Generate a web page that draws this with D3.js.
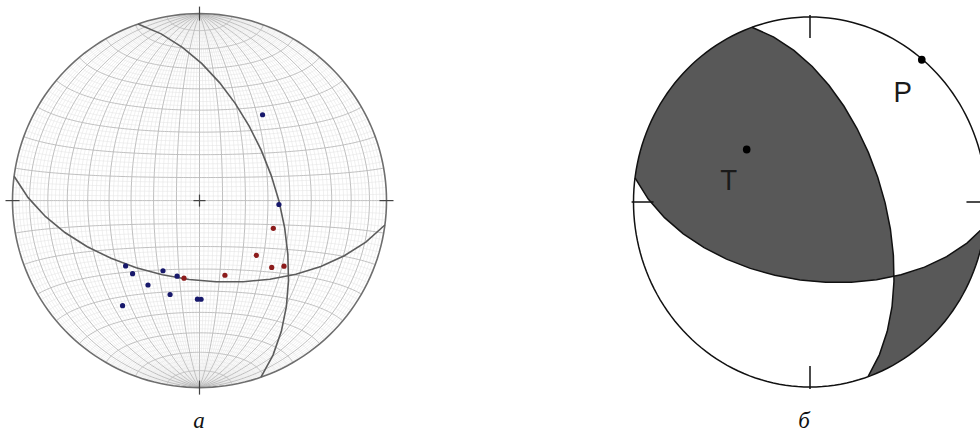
<!DOCTYPE html>
<html>
<head>
<meta charset="utf-8">
<script src="https://cdn.jsdelivr.net/npm/d3@7"></script>
<style>
  body { margin: 0; background: #fff; }
  svg { display: block; }
</style>
</head>
<body>
<svg id="fig" width="980" height="435"></svg>
<script>
// ---- data -------------------------------------------------------------
// nodal planes: dip direction and dip, degrees
const planeDipDir = [70.8, 187.5];
const planeDip    = [56.6, 55.0];

// first-motion observations (lower hemisphere), trend / plunge in degrees
const blueTrend  = [36.3, 92.8, 228.5, 222.5, 207.5, 196.5, 211.4, 197.4, 181.2, 179.1, 216.2];
const bluePlunge = [42.5, 55.0, 46.2, 46.0, 55.2, 55.3, 46.1, 46.3, 46.2, 46.2, 31.0];
const redTrend   = [191.3, 161.2, 133.9, 132.8, 127.8, 110.6];
const redPlunge  = [55.2, 55.3, 55.3, 46.3, 42.3, 55.3];

// principal stress axes
const axisNames  = ["T", "P"];
const axisTrend  = [308.3, 39.5];
const axisPlunge = [52.3, 0.5];

const panelLabels = ["а", "б"];

// ---- geometry helpers -------------------------------------------------
const rad = Math.PI / 180, deg = 180 / Math.PI;
// unit vector (north, east, down) of a line given trend/plunge
function lineVec(trend, plunge) {
  const t = trend * rad, p = plunge * rad;
  return [Math.cos(p) * Math.cos(t), Math.cos(p) * Math.sin(t), Math.sin(p)];
}
// down axis -> projection centre, east -> longitude, north -> latitude
function toGeo(v) {
  return [Math.atan2(v[1], v[2]) * deg, Math.asin(Math.max(-1, Math.min(1, v[0]))) * deg];
}
const neg = v => v.map(c => -c);
const dot = (a, b) => a[0] * b[0] + a[1] * b[1] + a[2] * b[2];
const cross = (a, b) => [a[1] * b[2] - a[2] * b[1], a[2] * b[0] - a[0] * b[2], a[0] * b[1] - a[1] * b[0]];
const unit = v => { const m = Math.hypot(...v); return v.map(c => c / m); };

function planeTrace(i) {
  const dd = planeDipDir[i], dip = planeDip[i];
  const s = lineVec(dd - 90, 0), d = lineVec(dd, dip);
  return { type: "LineString", coordinates: [s, d, neg(s)].map(toGeo) };
}
function planePole(i) { return lineVec(planeDipDir[i] + 180, 90 - planeDip[i]); }

// lower-hemisphere equal-area (Schmidt) projection
function schmidt(radius, centre, clip) {
  const p = d3.geoAzimuthalEqualArea().rotate([0, 0]).scale(radius / Math.SQRT2).translate(centre);
  if (clip) p.clipAngle(90);
  return p;
}

const svg = d3.select("#fig");

// ---- panel a: equal-area net with observations ------------------------
const netR = 187, netC = [199.5, 200.6];
const netProj = schmidt(netR, netC, false);
const netEdge = schmidt(netR, netC, true);
const netPath = d3.geoPath(netProj);

const gNet = svg.append("g");

function meridian(lon) {
  return { type: "LineString", coordinates: d3.range(-90, 90.01, 2).map(lat => [lon, lat]) };
}
function parallel(lat) {
  return { type: "LineString", coordinates: d3.range(-90, 90.01, 1).map(lon => [lon, lat]) };
}
const gridLons = d3.range(-88, 89, 2);
const gridLats = d3.range(-88, 89, 2);
const isMajor = v => Math.abs(v % 10) < 1e-9;

gNet.append("path").datum({ type: "Sphere" }).attr("d", d3.geoPath(netEdge)).attr("fill", "#fff");

const gridMinor = gNet.append("g").attr("fill", "none").attr("stroke", "#e0e0e0").attr("stroke-width", 0.5);
gridLons.filter(v => !isMajor(v)).forEach(v => gridMinor.append("path").attr("d", netPath(meridian(v))));
gridLats.filter(v => !isMajor(v)).forEach(v => gridMinor.append("path").attr("d", netPath(parallel(v))));

const gridMajor = gNet.append("g").attr("fill", "none").attr("stroke", "#b8b8b8").attr("stroke-width", 0.9);
gridLons.filter(isMajor).forEach(v => gridMajor.append("path").attr("d", netPath(meridian(v))));
gridLats.filter(isMajor).forEach(v => gridMajor.append("path").attr("d", netPath(parallel(v))));

// primitive circle
gNet.append("path").datum({ type: "Sphere" }).attr("d", d3.geoPath(netEdge))
  .attr("fill", "none").attr("stroke", "#6e6e6e").attr("stroke-width", 1.6);

// nodal planes
planeDip.forEach((_, i) => {
  gNet.append("path").attr("d", netPath(planeTrace(i)))
    .attr("fill", "none").attr("stroke", "#5c5c5c").attr("stroke-width", 1.6);
});

// cardinal ticks and centre cross
const ticks = gNet.append("g").attr("stroke", "#444").attr("stroke-width", 1.2);
const cardinal = [[0, 90], [0, -90], [90, 0], [-90, 0]];
cardinal.forEach(([lon, lat]) => {
  const p = netProj([lon, lat]);
  const ux = Math.sign(Math.round(p[0] - netC[0])), uy = Math.sign(Math.round(p[1] - netC[1]));
  ticks.append("line")
    .attr("x1", p[0] - ux * 7).attr("y1", p[1] - uy * 7)
    .attr("x2", p[0] + ux * 7).attr("y2", p[1] + uy * 7);
});
const c0 = netProj([0, 0]);
ticks.append("line").attr("x1", c0[0] - 6).attr("x2", c0[0] + 6).attr("y1", c0[1]).attr("y2", c0[1]);
ticks.append("line").attr("x1", c0[0]).attr("x2", c0[0]).attr("y1", c0[1] - 6).attr("y2", c0[1] + 6);

// observations
function drawPoints(trends, plunges, color) {
  gNet.append("g").selectAll("circle").data(trends.map((t, i) => toGeo(lineVec(t, plunges[i]))))
    .join("circle")
    .attr("cx", d => netProj(d)[0]).attr("cy", d => netProj(d)[1])
    .attr("r", 2.6).attr("fill", color);
}
drawPoints(blueTrend, bluePlunge, "#17186b");
drawPoints(redTrend, redPlunge, "#8c1c1c");

// ---- panel b: focal mechanism ----------------------------------------
const ballRy = 185, ballRx = 176.5, ballC = [810, 202];
const ballProj = schmidt(ballRy, [0, 0], true);
const ballLineProj = schmidt(ballRy, [0, 0], false);
const ballPath = d3.geoPath(ballProj), ballLinePath = d3.geoPath(ballLineProj);

const gBall = svg.append("g")
  .attr("transform", `translate(${ballC[0]},${ballC[1]}) scale(${ballRx / ballRy},1)`);

gBall.append("path").datum({ type: "Sphere" }).attr("d", ballPath).attr("fill", "#fff");

// compressional quadrants: the lune holding T and its antipode
const nA = planePole(0), nB = planePole(1);
const T = lineVec(axisTrend[0], axisPlunge[0]);
const sA = Math.sign(dot(T, nA)), sB = Math.sign(dot(T, nB));
const L = unit(cross(nA, nB));
let a = unit(cross(nA, L)); if (dot(a, nB) * sB < 0) a = neg(a);
let b = unit(cross(nB, L)); if (dot(b, nA) * sA < 0) b = neg(b);
function lune(ring) {
  const coords = ring.map(toGeo);
  let f = { type: "Polygon", coordinates: [coords] };
  if (d3.geoArea(f) > 2 * Math.PI) f = { type: "Polygon", coordinates: [coords.slice().reverse()] };
  return f;
}
const lunes = [lune([L, a, neg(L), b, L]), lune([neg(L), neg(a), L, neg(b), neg(L)])];
gBall.append("g").selectAll("path").data(lunes).join("path")
  .attr("d", ballPath).attr("fill", "#585858").attr("stroke", "none");

planeDip.forEach((_, i) => {
  gBall.append("path").attr("d", ballLinePath(planeTrace(i)))
    .attr("fill", "none").attr("stroke", "#111").attr("stroke-width", 1.5)
    .attr("vector-effect", "non-scaling-stroke");
});

gBall.append("path").datum({ type: "Sphere" }).attr("d", ballPath)
  .attr("fill", "none").attr("stroke", "#111").attr("stroke-width", 1.5)
  .attr("vector-effect", "non-scaling-stroke");

const bticks = gBall.append("g").attr("stroke", "#111").attr("stroke-width", 1.5);
cardinal.forEach(([lon, lat]) => {
  const p = ballLineProj([lon, lat]);
  const ux = Math.sign(Math.round(p[0])), uy = Math.sign(Math.round(p[1]));
  bticks.append("line")
    .attr("x1", p[0] + ux * 2).attr("y1", p[1] + uy * 2)
    .attr("x2", p[0] - ux * 21).attr("y2", p[1] - uy * 21)
    .attr("vector-effect", "non-scaling-stroke");
});

// T and P axes
const axisLabelOffset = [[-19, 40], [-20, 42]];
axisNames.forEach((name, i) => {
  const p = ballLineProj(toGeo(lineVec(axisTrend[i], axisPlunge[i])));
  gBall.append("circle").attr("cx", p[0]).attr("cy", p[1]).attr("r", 4).attr("fill", "#000");
  gBall.append("text").attr("x", p[0] + axisLabelOffset[i][0]).attr("y", p[1] + axisLabelOffset[i][1])
    .attr("text-anchor", "middle").attr("font-family", "Liberation Sans, Arial, sans-serif")
    .attr("font-size", 29).attr("fill", "#1a1a1a").text(name);
});

// ---- panel captions ---------------------------------------------------
const captionX = [199, 804];
panelLabels.forEach((t, i) => {
  svg.append("text").attr("x", captionX[i]).attr("y", 428)
    .attr("text-anchor", "middle").attr("font-family", "Liberation Serif, Times New Roman, serif")
    .attr("font-style", "italic").attr("font-size", 23).attr("fill", "#111").text(t);
});
</script>
</body>
</html>
